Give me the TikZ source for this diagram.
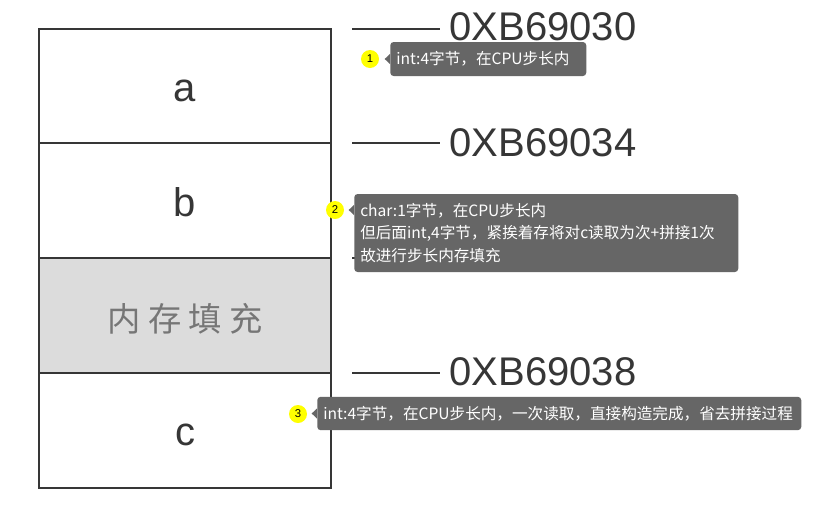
\documentclass[tikz,border=0pt]{standalone}
\usepackage{fontspec}
\setmainfont{Liberation Sans}
\newfontfamily\cjk{Noto Sans CJK SC}
\newfontfamily\cjkspaced[LetterSpace=22]{Noto Sans CJK SC}
\definecolor{tipgray}{HTML}{666666}
\definecolor{padgray}{HTML}{DCDCDC}
\definecolor{inkgray}{HTML}{363636}
\definecolor{padtext}{HTML}{767676}
\definecolor{badgeyellow}{HTML}{FFFF00}
\begin{document}
\begin{tikzpicture}[x=0.75pt,y=-0.75pt,
  cell/.style={draw=inkgray, line width=1.5pt, minimum width=219pt, minimum height=86pt, inner sep=0pt},
  celltext/.style={inner sep=0pt, font=\fontsize{30}{30}\selectfont, text=inkgray},
  addr/.style={anchor=west, inner xsep=7pt, inner ysep=0pt, font=\fontsize{30}{30}\selectfont, text=inkgray},
  addrline/.style={draw=inkgray, line width=1.5pt},
  badge/.style={circle, fill=badgeyellow, minimum size=13.5pt, inner sep=0pt,
    font=\fontsize{8.5}{8.5}\selectfont, text=black},
  tip/.style={anchor=west, fill=tipgray, rounded corners=2.5pt, text=white, align=left,
    inner xsep=4.5pt, inner ysep=0pt, font=\cjk\fontsize{11.7}{17.2}\selectfont},
  tipptr/.style={fill=tipgray}
]
\useasboundingbox (0,0) rectangle (818,511);
\fill[white] (0,0) rectangle (818,511);

% memory cells
\node[cell] (ca) at (185,86) {};
\node[cell] (cb) at (185,200.5) {};
\node[cell, fill=padgray] (cp) at (185,315.5) {};
\node[cell] (cc) at (185,430.5) {};
\node[celltext] (ta) at ([yshift=-3.5pt]ca.center) {a};
\node[celltext] (tb) at ([yshift=-1.5pt]cb.center) {b};
\node[celltext, text=padtext, font=\cjkspaced\fontsize{25}{25}\selectfont] (tp) at ([yshift=-2.5pt]cp.center) {内存填充};
\node[celltext] (tc) at ([yshift=-3pt]cc.center) {c};

% addresses
\node[addr] (l30) at (440,27) {0XB69030};
\coordinate (t30) at (352,28.5);
\draw[addrline] (t30) -- (t30 -| l30.west);

\node[addr] (l34) at (440,143) {0XB69034};
\coordinate (t34) at (352,143);
\draw[addrline] (t34) -- (t34 -| l34.west);

\node[addr] (l35) at (440,257) {0XB69035};
\coordinate (t35) at (352,258);
\draw[addrline] (t35) -- (t35 -| l35.west);

\node[addr] (l38) at (440,372) {0XB69038};
\coordinate (t38) at (352,373);
\draw[addrline] (t38) -- (t38 -| l38.west);

% tooltips
\node[badge] (n1) at (370,59) {1};
\node[tip, minimum height=25.5pt, text width=138pt] (tip1) at (390,59) {int:4字节，在CPU步长内};
\fill[tipptr] ([yshift=3.75pt]tip1.west) -- ++(-4pt,-3.75pt) -- ++(4pt,-3.75pt) -- cycle;

\node[badge] (n2) at (335,210) {2};
\node[tip, minimum height=58.5pt, text width=279pt] (tip2) at (354,233)
  {char:1字节，在CPU步长内\\但后面int,4字节，紧挨着存将对c读取为次+拼接1次\\故进行步长内存填充};
\coordinate (p2) at (tip2.west |- n2);
\fill[tipptr] ([yshift=3.75pt]p2) -- ++(-4pt,-3.75pt) -- ++(4pt,-3.75pt) -- cycle;

\node[badge] (n3) at (298,414) {3};
\node[tip, minimum height=25pt, text width=354pt] (tip3) at (317,413.5) {int:4字节，在CPU步长内，一次读取，直接构造完成，省去拼接过程};
\fill[tipptr] ([yshift=3.75pt]tip3.west) -- ++(-4pt,-3.75pt) -- ++(4pt,-3.75pt) -- cycle;
\end{tikzpicture}
\end{document}
